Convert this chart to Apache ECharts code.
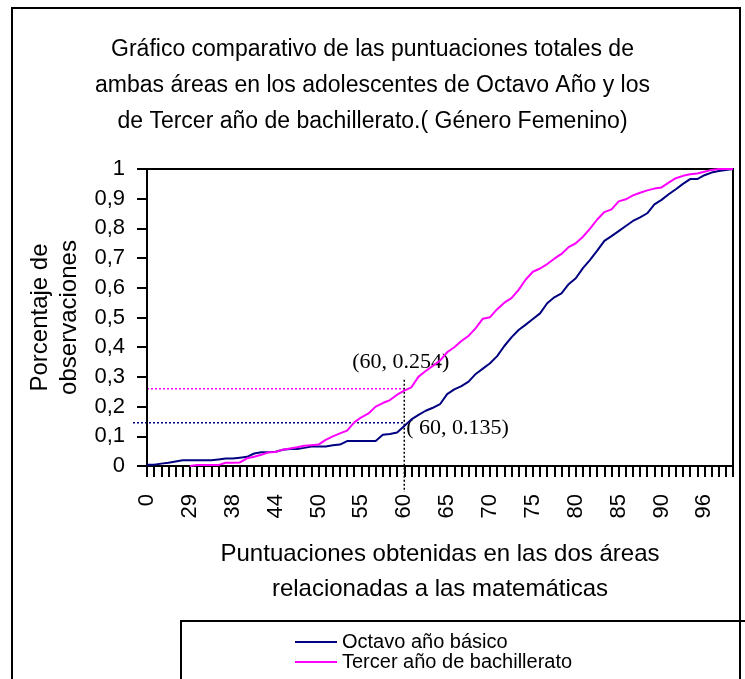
<!DOCTYPE html>
<html>
<head>
<meta charset="utf-8">
<script src="https://cdn.jsdelivr.net/npm/echarts@6/dist/echarts.min.js"></script>
<style>
  html,body{margin:0;padding:0;background:#fff;}
  #myChart{width:745px;height:679px;}
</style>
</head>
<body>
<div id="myChart"></div>
<script>
// puntuaciones (categorias del eje x)
let scores=["0","20","23","25","27","28","29","31","32","34","36","37","38","39","40","41","42","43","44",
  "45","46","47","48","49","50","51","52","53","53.5","54","55","56","57","57.5","58","59","60",
  "61","62","62.5","63","64","65","66","67","67.5","68","69","70","71","72","72.5","73","74","75",
  "76","77","77.5","78","79","80","81","82","82.5","83","84","85","86","87","87.5","88","89","90",
  "91","92","93","94","95","96","97","98","99","100"]

let octavo=[0.004,0.004,0.008,0.011,0.015,0.019,0.019,0.019,0.019,0.019,0.022,0.025,0.025,0.028,0.031,
  0.042,0.046,0.046,0.048,0.055,0.057,0.057,0.061,0.066,0.066,0.066,0.070,0.072,0.084,0.084,0.084,
  0.084,0.084,0.105,0.108,0.113,0.135,0.157,0.172,0.186,0.196,0.208,0.242,0.258,0.269,0.284,0.310,
  0.328,0.346,0.370,0.404,0.433,0.458,0.476,0.495,0.514,0.548,0.568,0.581,0.612,0.632,0.666,0.694,
  0.725,0.758,0.774,0.791,0.808,0.825,0.837,0.851,0.881,0.896,0.915,0.932,0.950,0.966,0.966,0.979,
  0.988,0.993,0.997,1.0]

let tercero=["-","-","-","-","-","-",0.0,0.003,0.003,0.003,0.003,0.011,0.011,0.012,0.026,0.031,0.038,
  0.046,0.047,0.055,0.059,0.063,0.068,0.070,0.072,0.088,0.100,0.110,0.119,0.147,0.164,0.177,0.200,
  0.212,0.222,0.240,0.254,0.265,0.301,0.320,0.337,0.355,0.383,0.400,0.421,0.438,0.464,0.496,0.501,
  0.528,0.550,0.565,0.593,0.628,0.654,0.665,0.680,0.698,0.714,0.737,0.750,0.772,0.799,0.830,0.855,
  0.864,0.891,0.898,0.911,0.920,0.928,0.934,0.938,0.954,0.969,0.977,0.982,0.985,0.991,0.997,1.0,
  1.0,1.0]

// lineas guia dibujadas a mano en el original
let guideX="60"
let guideTercero=0.26
let guideOctavo=0.146
let labelTercero="(60, 0.254)"
let labelOctavo="( 60, 0.135)"

let font="Liberation Sans, Arial, sans-serif"
let myChart=echarts.init(document.getElementById("myChart"))

myChart.setOption({
  animation:false,
  title:{
    text:"Gráfico comparativo de las puntuaciones totales de\nambas áreas en los adolescentes de Octavo Año y los\nde Tercer año de bachillerato.( Género Femenino)",
    left:"center",
    top:27,
    textStyle:{
      fontFamily:font,
      fontSize:23,
      fontWeight:"normal",
      color:"#000",
      lineHeight:36,
    },
  },
  legend:{
    orient:"vertical",
    left:295,
    top:632,
    padding:0,
    itemGap:0,
    icon:"rect",
    itemWidth:42,
    itemHeight:2,
    data:["Octavo año básico","Tercer año de bachillerato"],
    textStyle:{
      fontFamily:font,
      fontSize:20,
      lineHeight:16,
      color:"#000",
    },
  },
  grid:{
    left:147,
    right:12,
    top:169,
    bottom:213,
    show:true,
    borderColor:"#000",
    borderWidth:2,
  },
  xAxis:{
    type:"category",
    data:scores,
    boundaryGap:false,
    name:"Puntuaciones obtenidas en las dos áreas\nrelacionadas a las matemáticas",
    nameLocation:"middle",
    nameGap:71,
    nameTextStyle:{
      fontFamily:font,
      fontSize:24,
      color:"#000",
      lineHeight:35,
    },
    axisLine:{lineStyle:{color:"#000",width:2}},
    axisTick:{interval:0,length:11,lineStyle:{color:"#000",width:2}},
    axisLabel:{
      interval:5,
      rotate:90,
      margin:28,
      fontFamily:font,
      fontSize:22,
      color:"#000",
    },
    splitLine:{show:false},
  },
  yAxis:{
    type:"value",
    min:0,
    max:1,
    interval:0.1,
    name:"Porcentaje de\nobservaciones",
    nameLocation:"middle",
    nameRotate:90,
    nameGap:61,
    nameTextStyle:{
      fontFamily:font,
      fontSize:24,
      color:"#000",
      lineHeight:29,
    },
    axisLine:{show:true,lineStyle:{color:"#000",width:2}},
    axisTick:{show:true,length:10,lineStyle:{color:"#000",width:2}},
    axisLabel:{
      margin:22,
      fontFamily:font,
      fontSize:22,
      color:"#000",
      formatter:function(v){
        return String(Math.round(v*10)/10).replace(".",",")
      },
    },
    splitLine:{show:false},
  },
  series:[
    {
      name:"Octavo año básico",
      type:"line",
      data:octavo,
      showSymbol:false,
      symbol:"none",
      color:"#000080",
      lineStyle:{width:2,color:"#000080"},
    },
    {
      name:"Tercer año de bachillerato",
      type:"line",
      data:tercero,
      showSymbol:false,
      symbol:"none",
      color:"#ff00ff",
      lineStyle:{width:2,color:"#ff00ff"},
    },
  ],
})

// anotaciones: posiciones calculadas con las escalas del grafico
let pMag=myChart.convertToPixel({gridIndex:0},[guideX,guideTercero])
let pBlue=myChart.convertToPixel({gridIndex:0},[guideX,guideOctavo])
let pAxis=myChart.convertToPixel({gridIndex:0},[scores[0],0])
let pTop=myChart.convertToPixel({gridIndex:0},[guideX,0.29])
let p254=myChart.convertToPixel({gridIndex:0},[guideX,0.254])
let p135=myChart.convertToPixel({gridIndex:0},[guideX,0.135])

myChart.setOption({
  graphic:[
    {
      type:"rect",
      shape:{x:12,y:8,width:728,height:720},
      style:{fill:"none",stroke:"#000",lineWidth:2},
      silent:true,
    },
    {
      type:"rect",
      shape:{x:181,y:621,width:600,height:100},
      style:{fill:"none",stroke:"#000",lineWidth:2},
      silent:true,
    },
    {
      type:"line",
      shape:{x1:pAxis[0],y1:pMag[1],x2:pMag[0],y2:pMag[1]},
      style:{stroke:"#ff00ff",lineWidth:1.5,lineDash:[2,2]},
      silent:true,
    },
    {
      type:"line",
      shape:{x1:pAxis[0]-14,y1:pBlue[1],x2:pBlue[0],y2:pBlue[1]},
      style:{stroke:"#000080",lineWidth:1.5,lineDash:[2,2]},
      silent:true,
    },
    {
      type:"line",
      shape:{x1:pTop[0],y1:pTop[1],x2:pTop[0],y2:pAxis[1]+26},
      style:{stroke:"#000",lineWidth:1.5,lineDash:[2,2]},
      silent:true,
    },
    {
      type:"text",
      x:p254[0]-52,
      y:p254[1]-28,
      style:{
        text:labelTercero,
        fontFamily:"Liberation Serif, Times New Roman, serif",
        fontSize:22,
        fill:"#000",
        verticalAlign:"middle",
      },
    },
    {
      type:"text",
      x:p135[0]+2,
      y:p135[1]+2,
      style:{
        text:labelOctavo,
        fontFamily:"Liberation Serif, Times New Roman, serif",
        fontSize:22,
        fill:"#000",
        verticalAlign:"middle",
      },
    },
  ],
})
</script>
</body>
</html>
